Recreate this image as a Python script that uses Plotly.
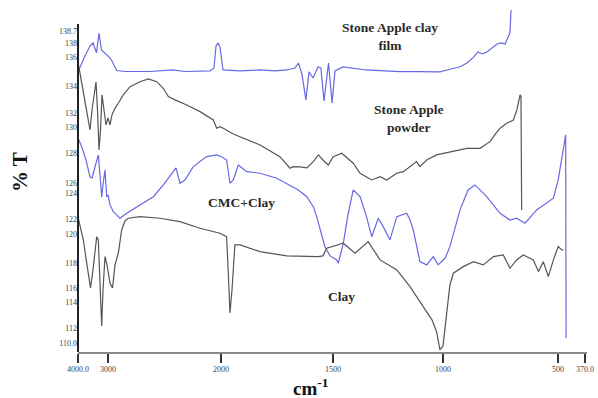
import numpy as np
import plotly.graph_objects as go

# ---------------- data (wavenumber cm-1, %T) ----------------
film_wn = [4000, 3800, 3600, 3500, 3383, 3300, 3217, 3100, 3000, 2969, 2923, 2850, 2628, 2425, 2319,
           2097, 2062, 2044, 2027, 2009, 1991, 1915, 1826, 1759, 1705, 1670, 1654, 1638, 1621, 1607,
           1589, 1567, 1554, 1540, 1527, 1520, 1504, 1491, 1455, 1423, 1350, 1264, 1195, 1105, 1045,
           1014, 983, 948, 926, 896, 870, 848, 830, 809, 783, 765, 748, 730, 717, 709, 704]
film_t = [134.99, 136.28, 137.38, 137.66, 136.74, 138.58, 137.01, 136.74, 136.46, 136.09, 135.12,
          135.03, 135.03, 135.17, 135.03, 135.08, 135.35, 137.38, 137.66, 137.29, 135.17, 135.08,
          135.17, 135.08, 135.17, 135.35, 135.81, 134.71, 132.40, 134.99, 134.43, 135.45, 135.35,
          132.31, 134.99, 135.81, 132.13, 135.08, 135.45, 135.35, 135.17, 135.08, 135.01, 135.01,
          135.03, 134.99, 135.17, 135.35, 135.47, 135.81, 136.28, 136.83, 136.65, 136.83, 137.29,
          137.57, 137.66, 137.57, 138.21, 138.58, 140.70]

powder_wn = [4000, 3867, 3767, 3667, 3600, 3533, 3467, 3400, 3350, 3300, 3250, 3200, 3133, 3067, 3000,
             2982, 2965, 2938, 2909, 2865, 2805, 2717, 2643, 2569, 2511, 2466, 2407, 2303, 2186, 2068,
             2038, 2009, 1990, 1945, 1826, 1737, 1692, 1677, 1647, 1617, 1588, 1565, 1545, 1521, 1499,
             1460, 1408, 1377, 1324, 1286, 1256, 1210, 1180, 1150, 1120, 1105, 1074, 1029, 970, 897,
             839, 796, 770, 752, 723, 694, 679, 668, 665, 661, 658]
powder_t = [135.91, 133.79, 132.13, 130.56, 129.64, 131.48, 132.87, 134.06, 131.48, 127.80, 129.64,
            132.87, 131.48, 130.10, 130.75, 130.10, 131.02, 131.66, 132.10, 132.87, 133.63, 134.09,
            134.34, 134.09, 133.48, 132.71, 132.41, 131.94, 131.33, 130.56, 129.80, 129.94, 129.80,
            129.27, 128.26, 127.18, 126.11, 126.26, 126.23, 126.14, 126.72, 127.34, 126.87, 126.41,
            127.18, 127.49, 126.57, 125.65, 125.03, 125.33, 125.03, 125.65, 125.80, 126.26, 126.72,
            126.26, 126.87, 127.34, 127.64, 127.95, 127.95, 128.56, 129.33, 129.80, 130.26, 130.56,
            131.48, 132.68, 132.87, 132.77, 122.27]

cmc_wn = [4000, 3877, 3733, 3600, 3533, 3433, 3323, 3267, 3210, 3167, 3100, 3043, 3000, 2982, 2953,
          2923, 2894, 2835, 2717, 2599, 2510, 2422, 2398, 2363, 2319, 2245, 2127, 2038, 1996, 1975,
          1960, 1945, 1923, 1885, 1826, 1751, 1692, 1655, 1617, 1588, 1573, 1558, 1536, 1513, 1483,
          1476, 1453, 1432, 1408, 1377, 1350, 1324, 1294, 1272, 1241, 1210, 1165, 1150, 1135, 1105,
          1074, 1044, 1022, 991, 970, 926, 891, 861, 810, 752, 709, 680, 643, 593, 520, 499, 474,
          463, 461]
cmc_t = [128.90, 128.10, 126.87, 125.31, 125.21, 126.23, 127.34, 125.49, 123.46, 124.57, 125.95,
         123.49, 123.65, 122.73, 122.11, 121.81, 121.50, 121.96, 122.73, 123.49, 124.57, 125.80,
         126.14, 124.73, 125.03, 126.26, 127.18, 127.34, 127.15, 126.87, 124.73, 125.03, 126.41,
         125.80, 125.65, 125.19, 124.57, 124.11, 123.49, 122.57, 121.65, 120.42, 118.88, 118.03,
         117.66, 117.35, 119.20, 121.81, 124.11, 123.49, 121.81, 119.80, 121.50, 120.73, 119.50,
         121.65, 121.96, 121.34, 120.42, 117.50, 117.20, 117.96, 117.20, 117.81, 118.88, 122.27,
         124.11, 124.57, 123.49, 121.96, 121.34, 121.50, 121.04, 122.27, 123.35, 125.03, 127.80,
         129.18, 110.47]

clay_wn = [4000, 3823, 3700, 3583, 3500, 3377, 3323, 3267, 3210, 3167, 3100, 3033, 2982, 2960, 2938,
           2909, 2879, 2850, 2820, 2717, 2540, 2363, 2186, 2009, 1975, 1967, 1960, 1951, 1938, 1915,
           1826, 1707, 1566, 1545, 1528, 1453, 1400, 1340, 1286, 1210, 1150, 1090, 1050, 1029, 1014,
           1000, 987, 970, 955, 912, 868, 825, 781, 738, 709, 680, 651, 607, 585, 564, 542, 520, 499,
           482, 474]
clay_t = [121.62, 119.50, 117.20, 115.08, 116.74, 119.80, 119.50, 114.89, 111.57, 114.89, 117.96,
          117.20, 115.51, 115.08, 117.20, 118.27, 120.42, 121.25, 121.50, 121.65, 121.50, 121.19,
          120.58, 120.12, 119.80, 116.27, 112.77, 114.89, 119.04, 119.04, 118.42, 118.03, 117.96,
          118.03, 118.74, 119.20, 118.27, 119.35, 117.66, 116.74, 115.20, 113.35, 112.13, 111.02,
          109.36, 109.73, 112.13, 115.35, 116.43, 117.04, 117.50, 117.20, 117.96, 118.12, 116.89,
          117.66, 118.12, 117.66, 116.58, 117.50, 116.12, 117.66, 118.88, 118.58, 118.58]

x_tick_wn = [4000, 3000, 2000, 1500, 1000, 500, 370]
x_tick_text = ["4000.0", "3000", "2000", "1500", "1000", "500", "370.0"]
y_tick_text = ["138.7", "138", "136", "134", "132", "130", "128", "126", "124", "122", "120",
               "118", "116", "114", "112", "110.0"]
y_tick_pos = [138.7, 137.66, 136.37, 133.70, 131.21, 129.92, 127.52, 124.76, 123.83, 121.44,
              120.05, 117.38, 115.08, 113.79, 111.39, 110.01]

# ---------------- piecewise (split) wavenumber axis ----------------
AX_U = [0, 30, 143, 255, 365, 480, 507]   # display position of each axis break


def xu(wn):
    wn = np.asarray(wn, dtype=float)
    return np.interp(-wn, -np.array(x_tick_wn, float), AX_U)


BLUE = "rgb(104,104,228)"
GRAY = "rgb(85,85,85)"
YMIN, YMAX = 109.17, 141.16
YAX_TOP = 139.41

fig = go.Figure()
for wn, t, col in [(film_wn, film_t, BLUE), (powder_wn, powder_t, GRAY),
                   (cmc_wn, cmc_t, BLUE), (clay_wn, clay_t, GRAY)]:
    fig.add_trace(go.Scatter(x=xu(wn), y=t, mode="lines",
                             line=dict(color=col, width=1.2), showlegend=False,
                             hoverinfo="skip"))

W, H = 598, 398
L, R, T, B = 78, 11, 5, 46
pw, ph = W - L - R, H - T - B


def px(x):
    return (x - L) / pw


def py(y):
    return (H - B - y) / ph


serif = "Liberation Serif, Times New Roman, serif"
ann = []
labels = [("Stone Apple clay<br>film", 390, 36), ("Stone Apple<br>powder", 408, 118),
          ("CMC+Clay", 241, 202), ("Clay", 341, 296)]
for txt, x, y in labels:
    ann.append(dict(text="<b>" + txt.replace("<br>", "</b><br><b>") + "</b>", x=px(x), y=py(y),
                    xref="paper", yref="paper", showarrow=False,
                    font=dict(family=serif, size=13.5, color="#2a2a2a"), xanchor="center",
                    yanchor="middle"))
ann.append(dict(text="<b>% T</b>", x=px(20), y=py(172), xref="paper", yref="paper",
                showarrow=False, textangle=-90, font=dict(family=serif, size=21, color="#111"),
                xanchor="center", yanchor="middle"))
ann.append(dict(text="<b>cm<sup>-1</sup></b>", x=px(310), y=py(387), xref="paper", yref="paper",
                showarrow=False, font=dict(family=serif, size=19, color="#111"),
                xanchor="center", yanchor="middle"))

fig.update_layout(
    width=W, height=H, margin=dict(l=L, r=R, t=T, b=B, autoexpand=False),
    paper_bgcolor="white", plot_bgcolor="white",
    xaxis=dict(range=[0, pw], tickvals=xu(x_tick_wn), ticktext=x_tick_text,
               showgrid=False, zeroline=False, showline=True, linecolor="#888", linewidth=1.5,
               ticks="outside", ticklen=9, tickwidth=1.5, tickcolor="#333",
               ticklabeloverflow="allow",
               tickfont=dict(family=serif, size=8, color="#444")),
    yaxis=dict(range=[YMIN, YMAX], tickvals=y_tick_pos, ticktext=y_tick_text,
               showgrid=False, zeroline=False, showline=False, ticks="",
               tickfont=dict(family=serif, size=8, color="#444")),
    annotations=ann,
    shapes=[dict(type="line", xref="paper", yref="y", x0=0, x1=0, y0=YMIN, y1=YAX_TOP,
                 line=dict(color="#222", width=2))],
)

fig.write_html("out.html", config={"displayModeBar": False},
               post_script="document.body.style.margin='0';")
